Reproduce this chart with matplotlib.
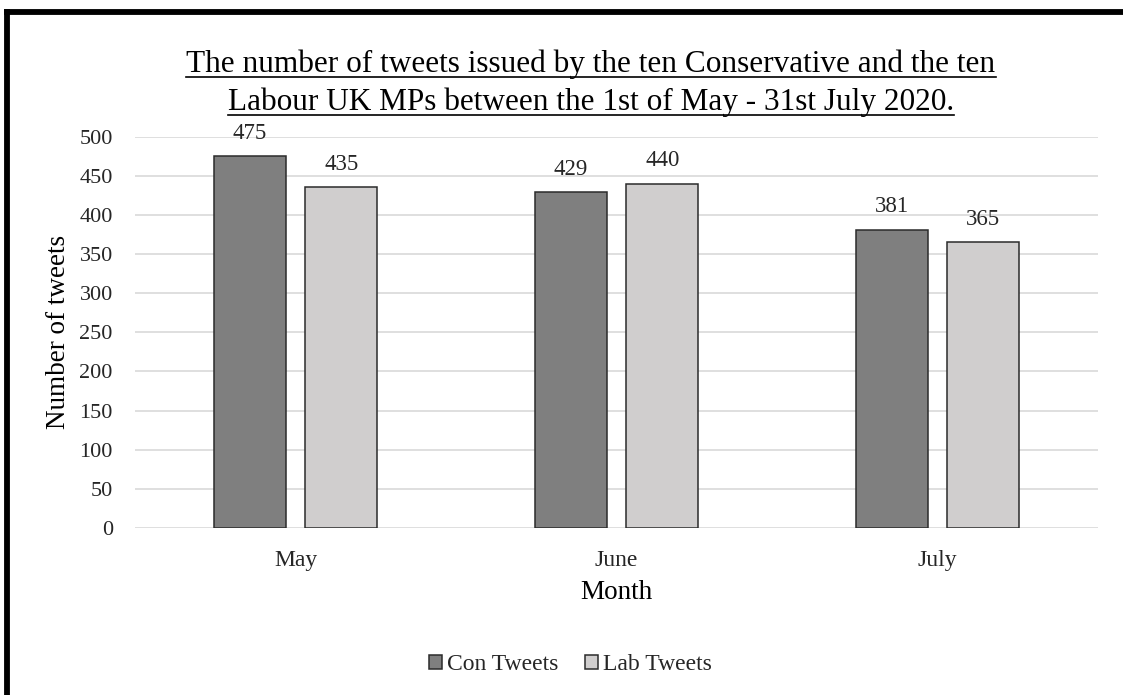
import matplotlib
matplotlib.use("Agg")
import matplotlib.pyplot as plt
import numpy as np
from matplotlib.lines import Line2D

months = ["May", "June", "July"]
con_tweets = [475, 429, 381]
lab_tweets = [435, 440, 365]
series_names = ["Con Tweets", "Lab Tweets"]
y_ticks = [0, 50, 100, 150, 200, 250, 300, 350, 400, 450, 500]

SERIF = ["Liberation Serif", "DejaVu Serif"]
plt.rcParams["font.family"] = SERIF

W, H = 1123, 695
fig = plt.figure(figsize=(W / 100, H / 100), dpi=100)
fig.patch.set_facecolor("white")

ax = fig.add_axes([135 / W, 1 - 528 / H, (1098 - 135) / W, (528 - 136.6) / H])

x = np.arange(len(months))
width = 0.224
offset = 0.1425
dark = "#7f7f7f"
light = "#d0cece"
edge = "#2b2b2b"

b1 = ax.bar(x - offset, con_tweets, width, color=dark, edgecolor=edge,
            linewidth=1.1, label=series_names[0], zorder=3)
b2 = ax.bar(x + offset, lab_tweets, width, color=light, edgecolor=edge,
            linewidth=1.1, label=series_names[1], zorder=3)

for bars, vals in ((b1, con_tweets), (b2, lab_tweets)):
    for rect, v in zip(bars, vals):
        ax.annotate(f"{v}", (rect.get_x() + rect.get_width() / 2, v),
                    xytext=(0, 9), textcoords="offset points",
                    ha="center", va="bottom", fontsize=16.5, color="#262626",
                    family=SERIF)

ax.set_xlim(-0.5, len(months) - 0.5)
ax.set_ylim(0, 500)
ax.set_yticks(y_ticks)
ax.set_yticklabels([str(t) for t in y_ticks], fontsize=16, color="#262626",
                   family=SERIF)
ax.set_xticks(x)
ax.set_xticklabels(months, fontsize=17, color="#262626", family=SERIF)
ax.tick_params(axis="both", length=0)
ax.tick_params(axis="y", pad=16)
ax.tick_params(axis="x", pad=16)
for s in ax.spines.values():
    s.set_visible(False)
ax.yaxis.grid(True, color="#d9d9d9", linewidth=1.2, zorder=0)
ax.set_axisbelow(True)

ax.set_ylabel("Number of tweets", fontsize=19.5, color="#000000", labelpad=6,
              family=SERIF)
ax.set_xlabel("Month", fontsize=19.5, color="#000000", labelpad=6,
              family=SERIF)

title_lines = [
    "The number of tweets issued by the ten Conservative and the ten",
    "Labour UK MPs between the 1st of May - 31st July 2020.",
]
title_texts = []
for line, base in zip(title_lines, (72, 110)):
    title_texts.append(fig.text(591 / W, 1 - base / H, line, ha="center",
                                va="baseline", fontsize=22.5, color="#000000",
                                family=SERIF))
# underline each title line
fig.canvas.draw()
renderer = fig.canvas.get_renderer()
for t in title_texts:
    bb = t.get_window_extent(renderer)
    y = t.get_position()[1] - 4.5 / H
    fig.add_artist(Line2D([bb.x0 / W, bb.x1 / W], [y, y],
                          transform=fig.transFigure, color="#000000", lw=1.2))

leg = fig.legend(handles=[b1, b2], labels=series_names, loc="center",
                 bbox_to_anchor=(570.5 / W, 1 - 665 / H), ncol=2, frameon=False,
                 prop={"family": SERIF, "size": 17},
                 handlelength=0.55, handleheight=0.55,
                 handletextpad=0.2, columnspacing=1.15)
for txt in leg.get_texts():
    txt.set_color("#262626")

# outer frame of the chart area
fig.add_artist(Line2D([7 / W, 7 / W], [0, 1 - 11.5 / H], transform=fig.transFigure,
                      color="#000000", lw=4.2, solid_capstyle="projecting"))
fig.add_artist(Line2D([7 / W, 1], [1 - 11.5 / H, 1 - 11.5 / H], transform=fig.transFigure,
                      color="#000000", lw=4.2, solid_capstyle="projecting"))

fig.savefig("out.png", dpi=100, facecolor="white")
